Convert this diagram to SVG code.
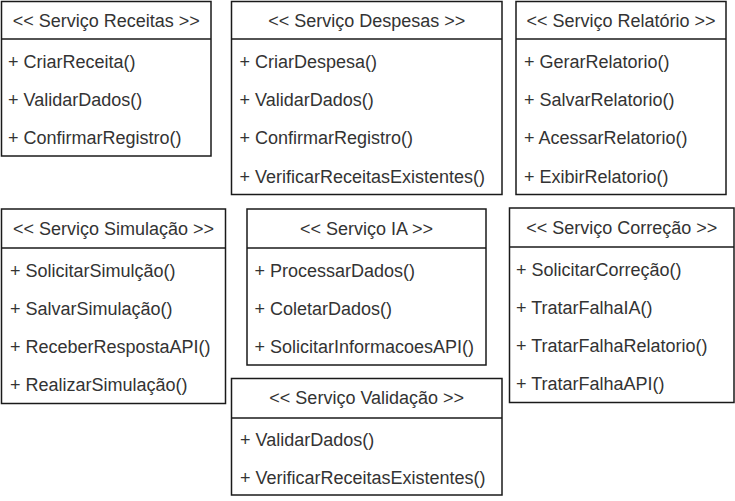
<svg xmlns="http://www.w3.org/2000/svg" width="735" height="501" viewBox="0 0 735 501">
<style>
.box{fill:#fff;stroke:#1a1a1a;stroke-width:1.5}
.sep{stroke:#1a1a1a;stroke-width:1.5}
.t{font-family:"Liberation Sans",Arial,sans-serif;font-size:18px;fill:#333}
.c{text-anchor:middle}
</style>
<rect width="735" height="501" fill="#fff"/>
<g id="servico-receitas">
<rect class="box" x="1.5" y="1.5" width="209.5" height="154.5"/>
<line class="sep" x1="1.5" y1="39" x2="211" y2="39"/>
<text class="t c" x="106.25" y="26.5">&lt;&lt; Serviço Receitas &gt;&gt;</text>
<text class="t" x="8" y="68">+ CriarReceita()</text>
<text class="t" x="8" y="106">+ ValidarDados()</text>
<text class="t" x="8" y="144">+ ConfirmarRegistro()</text>
</g>
<g id="servico-despesas">
<rect class="box" x="231.5" y="1.5" width="270.5" height="193"/>
<line class="sep" x1="231.5" y1="39" x2="502" y2="39"/>
<text class="t c" x="366.75" y="26.5">&lt;&lt; Serviço Despesas &gt;&gt;</text>
<text class="t" x="239.5" y="68">+ CriarDespesa()</text>
<text class="t" x="239.5" y="106">+ ValidarDados()</text>
<text class="t" x="239.5" y="144">+ ConfirmarRegistro()</text>
<text class="t" x="239.5" y="182.5">+ VerificarReceitasExistentes()</text>
</g>
<g id="servico-relatorio">
<rect class="box" x="516" y="1.5" width="210" height="193"/>
<line class="sep" x1="516" y1="39" x2="726" y2="39"/>
<text class="t c" x="621" y="26.5">&lt;&lt; Serviço Relatório &gt;&gt;</text>
<text class="t" x="524" y="68">+ GerarRelatorio()</text>
<text class="t" x="524" y="106">+ SalvarRelatorio()</text>
<text class="t" x="524" y="144">+ AcessarRelatorio()</text>
<text class="t" x="524" y="182.5">+ ExibirRelatorio()</text>
</g>
<g id="servico-simulacao">
<rect class="box" x="1.5" y="209" width="224" height="194.5"/>
<line class="sep" x1="1.5" y1="248" x2="225.5" y2="248"/>
<text class="t c" x="113.5" y="234.5">&lt;&lt; Serviço Simulação &gt;&gt;</text>
<text class="t" x="10" y="276.5">+ SolicitarSimulção()</text>
<text class="t" x="10" y="314.5">+ SalvarSimulação()</text>
<text class="t" x="10" y="352.5">+ ReceberRespostaAPI()</text>
<text class="t" x="10" y="391">+ RealizarSimulação()</text>
</g>
<g id="servico-ia">
<rect class="box" x="247" y="209" width="239" height="156"/>
<line class="sep" x1="247" y1="248" x2="486" y2="248"/>
<text class="t c" x="366.5" y="234.5">&lt;&lt; Serviço IA &gt;&gt;</text>
<text class="t" x="254.5" y="276.5">+ ProcessarDados()</text>
<text class="t" x="254.5" y="314.5">+ ColetarDados()</text>
<text class="t" x="254.5" y="352.5">+ SolicitarInformacoesAPI()</text>
</g>
<g id="servico-validacao">
<rect class="box" x="231.5" y="378.5" width="270.5" height="116.5"/>
<line class="sep" x1="231.5" y1="418" x2="502" y2="418"/>
<text class="t c" x="366.75" y="404">&lt;&lt; Serviço Validação &gt;&gt;</text>
<text class="t" x="240" y="446">+ ValidarDados()</text>
<text class="t" x="240" y="484">+ VerificarReceitasExistentes()</text>
</g>
<g id="servico-correcao">
<rect class="box" x="509.5" y="208" width="224.5" height="194.5"/>
<line class="sep" x1="509.5" y1="247" x2="734" y2="247"/>
<text class="t c" x="621.75" y="233.5">&lt;&lt; Serviço Correção &gt;&gt;</text>
<text class="t" x="516" y="275.5">+ SolicitarCorreção()</text>
<text class="t" x="516" y="313.5">+ TratarFalhaIA()</text>
<text class="t" x="516" y="351.5">+ TratarFalhaRelatorio()</text>
<text class="t" x="516" y="390">+ TratarFalhaAPI()</text>
</g>
<g id="connectors"></g>
</svg>
